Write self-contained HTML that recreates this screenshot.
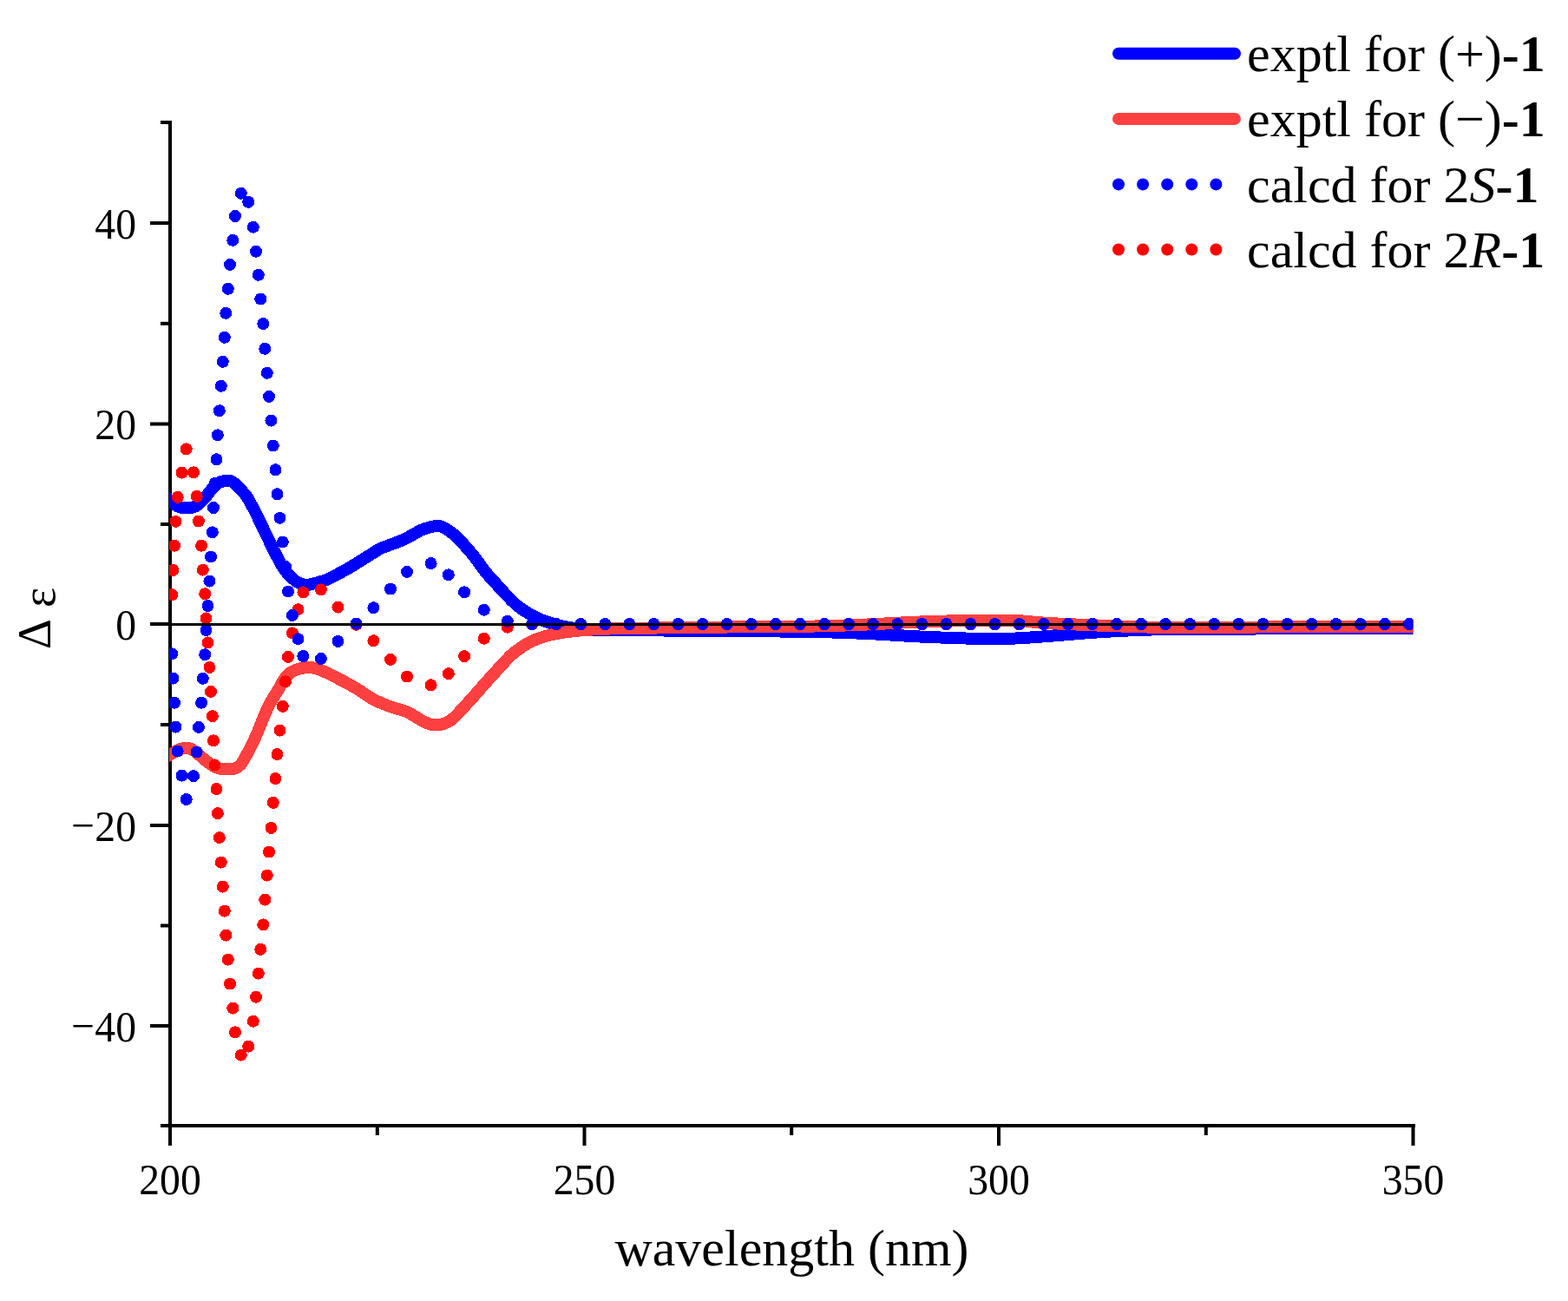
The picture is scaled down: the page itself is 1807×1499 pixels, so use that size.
<!DOCTYPE html>
<html><head><meta charset="utf-8"><title>CD spectra</title>
<style>html,body{margin:0;padding:0;background:#fff;}body{width:1807px;height:1499px;overflow:hidden;}svg{display:block;}</style>
</head><body>
<svg width="1807" height="1499" viewBox="0 0 1807 1499">
<rect x="0" y="0" width="1807" height="1499" fill="#fff"/>
<defs><clipPath id="pc"><rect x="195" y="100" width="1433.5" height="1197"/></clipPath></defs>
<g fill="#000">
<rect x="194" y="139" width="4" height="1160"/>
<rect x="194" y="1295" width="1437" height="4"/>
<rect x="173" y="255.0" width="22" height="4"/>
<rect x="173" y="486.5" width="22" height="4"/>
<rect x="173" y="717.0" width="22" height="4"/>
<rect x="173" y="949.0" width="22" height="4"/>
<rect x="173" y="1180.0" width="22" height="4"/>
<rect x="185" y="139.0" width="10" height="4"/>
<rect x="185" y="370.8" width="10" height="4"/>
<rect x="185" y="602.0" width="10" height="4"/>
<rect x="185" y="833.0" width="10" height="4"/>
<rect x="185" y="1064.5" width="10" height="4"/>
<rect x="185" y="1295" width="10" height="4"/>
<rect x="194.0" y="1297" width="4" height="23"/>
<rect x="671.5" y="1297" width="4" height="23"/>
<rect x="1149.0" y="1297" width="4" height="23"/>
<rect x="1626.5" y="1297" width="4" height="23"/>
<rect x="432.8" y="1297" width="4" height="11"/>
<rect x="910.2" y="1297" width="4" height="11"/>
<rect x="1387.8" y="1297" width="4" height="11"/>
</g>
<g clip-path="url(#pc)" shape-rendering="crispEdges">
<path d="M190.0,571.5 C190.8,572.2 193.3,574.6 195.0,576.0 C196.7,577.4 198.3,578.8 200.0,580.0 C201.7,581.2 203.3,582.7 205.0,583.5 C206.7,584.3 208.3,584.7 210.0,585.0 C211.7,585.3 213.3,585.3 215.0,585.3 C216.7,585.3 218.3,585.3 220.0,585.0 C221.7,584.7 223.3,584.3 225.0,583.5 C226.7,582.7 228.3,581.4 230.0,580.0 C231.7,578.6 233.3,576.9 235.0,575.0 C236.7,573.1 238.3,570.8 240.0,568.7 C241.7,566.6 243.3,564.4 245.0,562.5 C246.7,560.6 248.3,558.8 250.0,557.5 C251.7,556.2 253.2,555.6 255.0,555.0 C256.8,554.4 258.7,553.8 260.5,553.6 C262.3,553.5 264.1,553.5 265.8,554.1 C267.6,554.8 269.5,556.3 271.0,557.5 C272.5,558.7 273.7,560.0 275.0,561.4 C276.3,562.8 277.4,564.0 279.0,565.8 C280.6,567.6 282.7,569.6 284.3,572.0 C285.9,574.4 287.3,577.3 288.8,580.0 C290.3,582.7 291.9,585.3 293.3,588.0 C294.7,590.7 295.0,591.5 297.1,596.0 C299.2,600.5 303.0,608.0 306.2,614.7 C309.4,621.4 312.8,629.0 316.5,636.1 C320.2,643.2 324.6,651.9 328.5,657.4 C332.4,662.9 336.1,666.2 340.0,669.0 C343.9,671.8 348.1,673.6 352.2,674.0 C356.2,674.4 360.2,672.6 364.3,671.6 C368.4,670.6 372.4,669.5 376.5,667.9 C380.6,666.3 384.6,663.9 388.7,661.8 C392.8,659.7 396.8,657.4 400.9,655.1 C404.9,652.8 408.9,650.3 413.0,647.8 C417.1,645.3 421.1,642.7 425.2,640.2 C429.3,637.7 433.3,634.7 437.4,632.6 C441.5,630.5 445.6,629.3 449.6,627.7 C453.7,626.1 457.6,625.0 461.7,623.2 C465.8,621.4 469.8,619.2 473.9,617.1 C478.0,615.0 482.0,612.1 486.1,610.4 C490.2,608.7 495.3,607.4 498.3,606.7 C501.3,606.0 502.0,606.2 504.0,606.3 C506.0,606.4 507.3,605.8 510.4,607.3 C513.5,608.8 518.5,612.1 522.6,615.5 C526.7,618.9 530.7,623.3 534.8,627.7 C538.9,632.1 543.0,636.9 547.0,642.0 C551.0,647.1 555.2,653.6 559.0,658.4 C562.8,663.2 565.9,666.2 570.0,670.7 C574.1,675.2 578.9,680.8 583.4,685.4 C587.9,690.0 592.6,695.0 596.7,698.4 C600.8,701.8 604.1,703.6 608.0,706.0 C611.9,708.4 615.7,710.5 620.0,712.5 C624.3,714.5 628.7,716.1 634.0,717.7 C639.3,719.3 646.0,721.1 652.0,722.3 C658.0,723.5 663.7,724.3 670.0,725.0 C676.3,725.7 681.7,726.1 690.0,726.3 C698.3,726.5 705.0,726.2 720.0,726.3 C735.0,726.3 760.2,726.5 780.0,726.6 C799.8,726.7 812.5,726.8 839.0,727.0 C865.5,727.2 912.3,727.5 939.0,728.0 C965.7,728.5 978.8,729.1 999.0,730.0 C1019.2,730.9 1038.2,732.5 1060.0,733.5 C1081.8,734.5 1111.2,735.6 1129.5,735.9 C1147.8,736.2 1156.8,736.0 1170.0,735.5 C1183.2,735.0 1195.7,733.9 1209.0,732.9 C1222.3,731.9 1236.7,730.5 1250.0,729.5 C1263.3,728.5 1272.6,727.8 1289.0,727.0 C1305.4,726.2 1321.8,725.4 1348.6,725.0 C1375.4,724.6 1402.3,724.7 1450.0,724.5 C1497.7,724.3 1604.2,724.1 1635.0,724.0" fill="none" stroke="#0000ff" stroke-width="14" stroke-linejoin="round"/>
<path d="M190.0,873.0 C190.8,872.5 193.0,871.2 195.0,870.0 C197.0,868.8 200.0,867.2 202.2,866.0 C204.4,864.8 206.0,863.8 208.0,863.0 C210.0,862.2 212.4,861.5 214.4,861.5 C216.4,861.5 218.0,862.1 220.0,863.0 C222.0,863.9 224.5,865.5 226.5,867.0 C228.5,868.5 230.0,870.2 232.0,872.0 C234.0,873.8 236.5,875.8 238.7,877.5 C240.9,879.2 243.0,880.8 245.0,882.0 C247.0,883.2 248.9,884.1 250.9,884.8 C252.9,885.5 255.0,886.0 257.0,886.3 C259.0,886.6 260.8,886.5 263.0,886.4 C265.2,886.3 268.0,886.1 270.0,885.5 C272.0,884.9 273.5,884.2 275.0,883.0 C276.5,881.8 277.0,881.9 279.2,878.4 C281.4,874.9 285.5,867.3 288.4,861.7 C291.2,856.1 293.9,850.5 296.3,845.0 C298.7,839.5 300.6,833.9 303.0,828.4 C305.4,822.9 307.6,817.3 310.5,811.7 C313.4,806.1 317.4,800.2 320.5,795.0 C323.6,789.8 326.4,784.0 329.0,780.5 C331.6,777.0 333.2,775.8 336.0,774.1 C338.8,772.4 342.6,771.1 346.0,770.3 C349.4,769.4 353.4,769.0 356.6,769.0 C359.8,769.0 362.2,769.7 365.0,770.5 C367.8,771.3 368.9,771.6 373.4,773.7 C377.9,775.8 385.9,779.8 392.1,783.0 C398.3,786.2 404.6,789.5 410.8,793.2 C417.0,796.9 423.0,801.9 429.5,805.4 C436.0,808.9 443.2,811.7 449.9,814.2 C456.6,816.8 463.1,817.7 469.8,820.7 C476.5,823.7 484.2,829.8 489.8,832.2 C495.4,834.7 498.7,835.8 503.7,835.4 C508.7,835.0 513.7,834.1 519.7,829.7 C525.7,825.4 533.0,816.4 539.6,809.3 C546.2,802.2 552.9,794.3 559.5,786.9 C566.1,779.5 574.3,770.4 579.4,764.9 C584.5,759.4 586.7,757.0 590.0,754.0 C593.3,751.0 596.7,748.9 599.3,747.0 C601.9,745.1 601.9,744.6 605.5,742.7 C609.1,740.8 615.8,737.4 621.0,735.4 C626.2,733.4 630.0,732.4 636.5,731.0 C643.0,729.6 652.0,728.2 659.7,727.3 C667.5,726.4 672.7,726.0 683.0,725.5 C693.3,725.0 695.7,724.5 721.7,724.0 C747.7,723.5 802.8,722.9 839.0,722.5 C875.2,722.1 912.3,722.0 939.0,721.5 C965.7,721.0 978.8,720.3 999.0,719.5 C1019.2,718.7 1038.2,717.3 1060.0,716.5 C1081.8,715.7 1111.2,715.0 1129.5,714.7 C1147.8,714.5 1156.8,714.5 1170.0,715.0 C1183.2,715.5 1189.2,716.9 1209.0,718.0 C1228.8,719.1 1265.7,720.6 1289.0,721.4 C1312.3,722.2 1321.8,722.8 1348.6,723.0 C1375.4,723.2 1402.3,722.7 1450.0,722.5 C1497.7,722.3 1604.2,722.1 1635.0,722.0" fill="none" stroke="#ff4040" stroke-width="14" stroke-linejoin="round"/>
<g fill="#ff0000"><circle cx="198.3" cy="685.1" r="7.0"/><circle cx="199.5" cy="656.9" r="7.0"/><circle cx="201.0" cy="628.7" r="7.0"/><circle cx="202.5" cy="600.8" r="7.0"/><circle cx="204.7" cy="572.9" r="7.0"/><circle cx="209.5" cy="544.7" r="7.0"/><circle cx="214.7" cy="517.4" r="7.0"/><circle cx="223.0" cy="544.3" r="7.0"/><circle cx="226.7" cy="571.9" r="7.0"/><circle cx="228.9" cy="600.5" r="7.0"/><circle cx="232.1" cy="628.7" r="7.0"/><circle cx="233.8" cy="656.6" r="7.0"/><circle cx="236.2" cy="684.2" r="7.0"/><circle cx="237.5" cy="712.4" r="7.0"/><circle cx="239.5" cy="740.4" r="7.0"/><circle cx="241.5" cy="768.9" r="7.0"/><circle cx="243.0" cy="796.9" r="7.0"/><circle cx="244.8" cy="825.1" r="7.0"/><circle cx="246.0" cy="853.4" r="7.0"/><circle cx="247.5" cy="881.4" r="7.0"/><circle cx="249.5" cy="909.1" r="7.0"/><circle cx="250.8" cy="937.1" r="7.0"/><circle cx="252.8" cy="965.1" r="7.0"/><circle cx="254.8" cy="993.6" r="7.0"/><circle cx="256.8" cy="1021.6" r="7.0"/><circle cx="258.8" cy="1049.6" r="7.0"/><circle cx="260.3" cy="1077.6" r="7.0"/><circle cx="262.8" cy="1105.6" r="7.0"/><circle cx="265.0" cy="1133.6" r="7.0"/><circle cx="268.3" cy="1161.6" r="7.0"/><circle cx="271.0" cy="1189.4" r="7.0"/><circle cx="277.8" cy="1215.6" r="7.0"/><circle cx="286.2" cy="1205.6" r="7.0"/><circle cx="291.8" cy="1176.7" r="7.0"/><circle cx="295.0" cy="1148.7" r="7.0"/><circle cx="297.8" cy="1121.6" r="7.0"/><circle cx="300.3" cy="1093.9" r="7.0"/><circle cx="303.3" cy="1065.4" r="7.0"/><circle cx="305.3" cy="1036.6" r="7.0"/><circle cx="307.8" cy="1008.6" r="7.0"/><circle cx="310.0" cy="981.6" r="7.0"/><circle cx="312.5" cy="953.9" r="7.0"/><circle cx="314.8" cy="924.9" r="7.0"/><circle cx="317.5" cy="897.1" r="7.0"/><circle cx="319.5" cy="869.1" r="7.0"/><circle cx="322.5" cy="841.6" r="7.0"/><circle cx="325.8" cy="813.9" r="7.0"/><circle cx="329.0" cy="785.4" r="7.0"/><circle cx="332.0" cy="756.9" r="7.0"/><circle cx="336.9" cy="729.4" r="7.0"/><circle cx="343.5" cy="702.2" r="7.0"/><circle cx="349.4" cy="682.4" r="7.0"/><circle cx="369.9" cy="679.4" r="7.0"/><circle cx="389.5" cy="699.5" r="7.0"/><circle cx="410.6" cy="719.8" r="7.0"/><circle cx="430.4" cy="738.2" r="7.0"/><circle cx="450.0" cy="759.8" r="7.0"/><circle cx="469.0" cy="779.6" r="7.0"/><circle cx="496.6" cy="789.3" r="7.0"/><circle cx="516.8" cy="776.1" r="7.0"/><circle cx="535.1" cy="756.1" r="7.0"/><circle cx="557.8" cy="735.7" r="7.0"/><circle cx="584.8" cy="722.7" r="7.0"/><circle cx="613.1" cy="719.4" r="7.0"/><circle cx="641.2" cy="719.4" r="7.0"/><circle cx="669.3" cy="719.4" r="7.0"/><circle cx="697.3" cy="719.4" r="7.0"/><circle cx="725.4" cy="719.4" r="7.0"/><circle cx="753.5" cy="719.4" r="7.0"/><circle cx="781.6" cy="719.4" r="7.0"/><circle cx="809.7" cy="719.4" r="7.0"/><circle cx="837.7" cy="719.4" r="7.0"/><circle cx="865.8" cy="719.4" r="7.0"/><circle cx="893.9" cy="719.4" r="7.0"/><circle cx="922.0" cy="719.4" r="7.0"/><circle cx="950.1" cy="719.4" r="7.0"/><circle cx="978.1" cy="719.4" r="7.0"/><circle cx="1006.2" cy="719.4" r="7.0"/><circle cx="1034.3" cy="719.4" r="7.0"/><circle cx="1062.4" cy="719.4" r="7.0"/><circle cx="1090.5" cy="719.4" r="7.0"/><circle cx="1118.5" cy="719.4" r="7.0"/><circle cx="1146.6" cy="719.4" r="7.0"/><circle cx="1174.7" cy="719.4" r="7.0"/><circle cx="1202.8" cy="719.4" r="7.0"/><circle cx="1230.9" cy="719.4" r="7.0"/><circle cx="1258.9" cy="719.4" r="7.0"/><circle cx="1287.0" cy="719.4" r="7.0"/><circle cx="1315.1" cy="719.4" r="7.0"/><circle cx="1343.2" cy="719.4" r="7.0"/><circle cx="1371.3" cy="719.4" r="7.0"/><circle cx="1399.3" cy="719.4" r="7.0"/><circle cx="1427.4" cy="719.4" r="7.0"/><circle cx="1455.5" cy="719.4" r="7.0"/><circle cx="1483.6" cy="719.4" r="7.0"/><circle cx="1511.7" cy="719.4" r="7.0"/><circle cx="1539.7" cy="719.4" r="7.0"/><circle cx="1567.8" cy="719.4" r="7.0"/><circle cx="1595.9" cy="719.4" r="7.0"/><circle cx="1624.0" cy="719.4" r="7.0"/></g>
<g fill="#0000ff"><circle cx="198.3" cy="753.3" r="7.0"/><circle cx="199.5" cy="781.5" r="7.0"/><circle cx="201.0" cy="809.7" r="7.0"/><circle cx="202.5" cy="837.6" r="7.0"/><circle cx="204.7" cy="865.5" r="7.0"/><circle cx="209.5" cy="893.7" r="7.0"/><circle cx="214.7" cy="921.0" r="7.0"/><circle cx="223.0" cy="894.1" r="7.0"/><circle cx="226.7" cy="866.5" r="7.0"/><circle cx="228.9" cy="837.9" r="7.0"/><circle cx="232.1" cy="809.7" r="7.0"/><circle cx="233.8" cy="781.8" r="7.0"/><circle cx="236.2" cy="754.2" r="7.0"/><circle cx="237.5" cy="726.0" r="7.0"/><circle cx="239.5" cy="698.0" r="7.0"/><circle cx="241.5" cy="669.5" r="7.0"/><circle cx="243.0" cy="641.5" r="7.0"/><circle cx="244.8" cy="613.3" r="7.0"/><circle cx="246.0" cy="585.0" r="7.0"/><circle cx="247.5" cy="557.0" r="7.0"/><circle cx="249.5" cy="529.3" r="7.0"/><circle cx="250.8" cy="501.3" r="7.0"/><circle cx="252.8" cy="473.3" r="7.0"/><circle cx="254.8" cy="444.8" r="7.0"/><circle cx="256.8" cy="416.8" r="7.0"/><circle cx="258.8" cy="388.8" r="7.0"/><circle cx="260.3" cy="360.8" r="7.0"/><circle cx="262.8" cy="332.8" r="7.0"/><circle cx="265.0" cy="304.8" r="7.0"/><circle cx="268.3" cy="276.8" r="7.0"/><circle cx="271.0" cy="249.0" r="7.0"/><circle cx="277.8" cy="222.8" r="7.0"/><circle cx="286.2" cy="232.8" r="7.0"/><circle cx="291.8" cy="261.7" r="7.0"/><circle cx="295.0" cy="289.7" r="7.0"/><circle cx="297.8" cy="316.8" r="7.0"/><circle cx="300.3" cy="344.5" r="7.0"/><circle cx="303.3" cy="373.0" r="7.0"/><circle cx="305.3" cy="401.8" r="7.0"/><circle cx="307.8" cy="429.8" r="7.0"/><circle cx="310.0" cy="456.8" r="7.0"/><circle cx="312.5" cy="484.5" r="7.0"/><circle cx="314.8" cy="513.5" r="7.0"/><circle cx="317.5" cy="541.3" r="7.0"/><circle cx="319.5" cy="569.3" r="7.0"/><circle cx="322.5" cy="596.8" r="7.0"/><circle cx="325.8" cy="624.5" r="7.0"/><circle cx="329.0" cy="653.0" r="7.0"/><circle cx="332.0" cy="681.5" r="7.0"/><circle cx="336.9" cy="709.0" r="7.0"/><circle cx="343.5" cy="736.2" r="7.0"/><circle cx="349.4" cy="756.0" r="7.0"/><circle cx="369.9" cy="759.0" r="7.0"/><circle cx="389.5" cy="738.9" r="7.0"/><circle cx="410.6" cy="718.6" r="7.0"/><circle cx="430.4" cy="700.2" r="7.0"/><circle cx="450.0" cy="678.6" r="7.0"/><circle cx="469.0" cy="658.8" r="7.0"/><circle cx="496.6" cy="649.1" r="7.0"/><circle cx="516.8" cy="662.3" r="7.0"/><circle cx="535.1" cy="682.3" r="7.0"/><circle cx="557.8" cy="702.7" r="7.0"/><circle cx="584.8" cy="715.7" r="7.0"/><circle cx="613.1" cy="719.0" r="7.0"/><circle cx="641.2" cy="719.0" r="7.0"/><circle cx="669.3" cy="719.0" r="7.0"/><circle cx="697.3" cy="719.0" r="7.0"/><circle cx="725.4" cy="719.0" r="7.0"/><circle cx="753.5" cy="719.0" r="7.0"/><circle cx="781.6" cy="719.0" r="7.0"/><circle cx="809.7" cy="719.0" r="7.0"/><circle cx="837.7" cy="719.0" r="7.0"/><circle cx="865.8" cy="719.0" r="7.0"/><circle cx="893.9" cy="719.0" r="7.0"/><circle cx="922.0" cy="719.0" r="7.0"/><circle cx="950.1" cy="719.0" r="7.0"/><circle cx="978.1" cy="719.0" r="7.0"/><circle cx="1006.2" cy="719.0" r="7.0"/><circle cx="1034.3" cy="719.0" r="7.0"/><circle cx="1062.4" cy="719.0" r="7.0"/><circle cx="1090.5" cy="719.0" r="7.0"/><circle cx="1118.5" cy="719.0" r="7.0"/><circle cx="1146.6" cy="719.0" r="7.0"/><circle cx="1174.7" cy="719.0" r="7.0"/><circle cx="1202.8" cy="719.0" r="7.0"/><circle cx="1230.9" cy="719.0" r="7.0"/><circle cx="1258.9" cy="719.0" r="7.0"/><circle cx="1287.0" cy="719.0" r="7.0"/><circle cx="1315.1" cy="719.0" r="7.0"/><circle cx="1343.2" cy="719.0" r="7.0"/><circle cx="1371.3" cy="719.0" r="7.0"/><circle cx="1399.3" cy="719.0" r="7.0"/><circle cx="1427.4" cy="719.0" r="7.0"/><circle cx="1455.5" cy="719.0" r="7.0"/><circle cx="1483.6" cy="719.0" r="7.0"/><circle cx="1511.7" cy="719.0" r="7.0"/><circle cx="1539.7" cy="719.0" r="7.0"/><circle cx="1567.8" cy="719.0" r="7.0"/><circle cx="1595.9" cy="719.0" r="7.0"/><circle cx="1624.0" cy="719.0" r="7.0"/></g>
<rect x="195" y="718" width="1423" height="2.6" fill="#000"/>
</g>
<g font-family="'Liberation Serif','Times New Roman',serif" font-size="51" fill="#000">
<text transform="translate(157,274.8) scale(0.935,1)" text-anchor="end">40</text>
<text transform="translate(157,506.3) scale(0.935,1)" text-anchor="end">20</text>
<text transform="translate(157,736.8) scale(0.935,1)" text-anchor="end">0</text>
<text transform="translate(157,968.8) scale(0.935,1)" text-anchor="end">20</text>
<text transform="translate(109.2,967.8) scale(0.935,1)" text-anchor="end">−</text>
<text transform="translate(157,1199.8) scale(0.935,1)" text-anchor="end">40</text>
<text transform="translate(109.2,1198.8) scale(0.935,1)" text-anchor="end">−</text>
<text transform="translate(196.0,1375.9) scale(0.935,1)" text-anchor="middle">200</text>
<text transform="translate(673.5,1375.9) scale(0.935,1)" text-anchor="middle">250</text>
<text transform="translate(1151.0,1375.9) scale(0.935,1)" text-anchor="middle">300</text>
<text transform="translate(1628.5,1375.9) scale(0.935,1)" text-anchor="middle">350</text>
</g>
<text font-family="'Liberation Serif','Times New Roman',serif" font-size="60" x="912.5" y="1458.4" text-anchor="middle">wavelength (nm)</text>
<text font-family="'Liberation Serif','Times New Roman',serif" font-size="54" transform="translate(57.5,748) rotate(-90)">Δ</text>
<text font-family="'Liberation Serif','Times New Roman',serif" font-size="55" transform="translate(63.3,700) rotate(-90)">ε</text>
<line x1="1289" y1="61.8" x2="1423" y2="61.8" stroke="#0000ff" stroke-width="14" stroke-linecap="round"/>
<line x1="1289" y1="136.9" x2="1423" y2="136.9" stroke="#ff4040" stroke-width="14" stroke-linecap="round"/>
<g fill="#0000ff"><circle cx="1289.0" cy="212.4" r="7"/><circle cx="1317.1" cy="212.4" r="7"/><circle cx="1345.2" cy="212.4" r="7"/><circle cx="1373.3" cy="212.4" r="7"/><circle cx="1401.4" cy="212.4" r="7"/></g>
<g fill="#ff0000"><circle cx="1289.0" cy="287.5" r="7"/><circle cx="1317.1" cy="287.5" r="7"/><circle cx="1345.2" cy="287.5" r="7"/><circle cx="1373.3" cy="287.5" r="7"/><circle cx="1401.4" cy="287.5" r="7"/></g>
<g font-family="'Liberation Serif','Times New Roman',serif" font-size="60" fill="#000">
<text x="1437" y="82.0">exptl for (+)<tspan font-weight="bold">-1</tspan></text>
<text x="1437" y="157.3">exptl for (−)<tspan font-weight="bold">-1</tspan></text>
<text x="1437" y="232.5">calcd for 2<tspan font-style="italic">S</tspan><tspan font-weight="bold">-1</tspan></text>
<text x="1437" y="307.7">calcd for 2<tspan font-style="italic">R</tspan><tspan font-weight="bold">-1</tspan></text>
</g>
</svg>
</body></html>
